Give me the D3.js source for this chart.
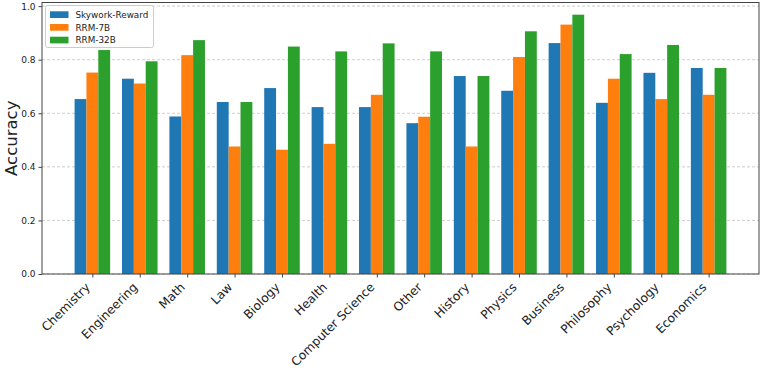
<!DOCTYPE html>
<html>
<head>
<meta charset="utf-8">
<script src="https://cdn.jsdelivr.net/npm/d3@7"></script>
<style>
  html, body { margin: 0; background: #fff; overflow: hidden; }
  svg { display: block; }
  text { font-family: "DejaVu Sans", sans-serif; fill: #222; }
  .grid line { stroke: #cfcfcf; stroke-dasharray: 3,2; }
</style>
</head>
<body>
<div id="chart"></div>
<script>
const categories = ["Chemistry","Engineering","Math","Law","Biology","Health","Computer Science",
  "Other","History","Physics","Business","Philosophy","Psychology","Economics"];
const seriesNames = ["Skywork-Reward","RRM-7B","RRM-32B"];
const skywork = [0.653,0.729,0.588,0.642,0.694,0.623,0.623,0.563,0.739,0.684,0.862,0.639,0.751,0.769];
const rrm7b   = [0.752,0.711,0.817,0.476,0.464,0.486,0.669,0.587,0.476,0.810,0.931,0.729,0.653,0.669];
const rrm32b  = [0.836,0.794,0.873,0.642,0.849,0.831,0.861,0.831,0.739,0.906,0.968,0.821,0.855,0.769];
const yTicks = [0.0,0.2,0.4,0.6,0.8,1.0];
const colors = ["#1f77b4","#ff7f0e","#2ca02c"];

const W = 761, H = 368;
const margin = {top:2.5, right:2, bottom:94, left:42};
const width = W - margin.left - margin.right;
const height = H - margin.top - margin.bottom;

const svg = d3.select("#chart").append("svg")
    .attr("width", W).attr("height", H);
const g = svg.append("g")
    .attr("transform", "translate(" + margin.left + "," + margin.top + ")");

const barW = 0.25;
const x = d3.scaleLinear().domain([-1.0625, 14.0625]).range([0, width]);
const y = d3.scaleLinear().domain([0, 1.0135]).range([height, 0]);

// grid
g.append("g").attr("class","grid")
  .selectAll("line").data(yTicks).enter().append("line")
  .attr("x1",0).attr("x2",width)
  .attr("y1",d=>y(d)).attr("y2",d=>y(d));

// bars
const data = [skywork, rrm7b, rrm32b];
data.forEach((vals, s) => {
  g.append("g").selectAll("rect").data(vals).enter().append("rect")
    .attr("x", (d,i) => x(i + (s-1)*barW - barW/2))
    .attr("width", x(barW) - x(0))
    .attr("y", d => y(d))
    .attr("height", d => y(0) - y(d))
    .attr("fill", colors[s]);
});

// frame
g.append("rect").attr("width",width).attr("height",height)
  .attr("fill","none").attr("stroke","#444").attr("stroke-width",1);

// y axis
const ya = g.append("g").call(d3.axisLeft(y).tickValues(yTicks).tickFormat(d3.format(".1f")).tickSize(3.5).tickPadding(3));
ya.select(".domain").remove();
ya.selectAll("line").attr("stroke","#444");
ya.selectAll("text").style("font-size","9px");

// x axis
const xa = g.append("g").attr("transform","translate(0,"+height+")")
  .call(d3.axisBottom(x).tickValues(d3.range(categories.length)).tickFormat(i => categories[i]).tickSize(3.5));
xa.select(".domain").remove();
xa.selectAll("line").attr("stroke","#444");
xa.selectAll("text")
  .style("font-size","12.2px")
  .attr("text-anchor","end")
  .attr("dy",null)
  .attr("y", 0)
  .attr("transform","translate(-2,14) rotate(-45)");

// y label
svg.append("text")
  .attr("transform","translate(17," + (margin.top + height/2) + ") rotate(-90)")
  .attr("text-anchor","middle")
  .style("font-size","16.5px")
  .text("Accuracy");

// legend
const lg = svg.append("g");
lg.append("rect").attr("x",45.5).attr("y",5.5).attr("width",108).attr("height",42).attr("rx",2)
  .attr("fill","#fff").attr("fill-opacity",0.8).attr("stroke","#ccc");
seriesNames.forEach((n,i) => {
  lg.append("rect").attr("x",50).attr("y",11.3 + i*12.7).attr("width",18.5).attr("height",6.7).attr("fill",colors[i]);
  lg.append("text").attr("x",75.5).attr("y",17.9 + i*12.7).style("font-size","8.8px").text(n);
});
</script>
</body>
</html>
